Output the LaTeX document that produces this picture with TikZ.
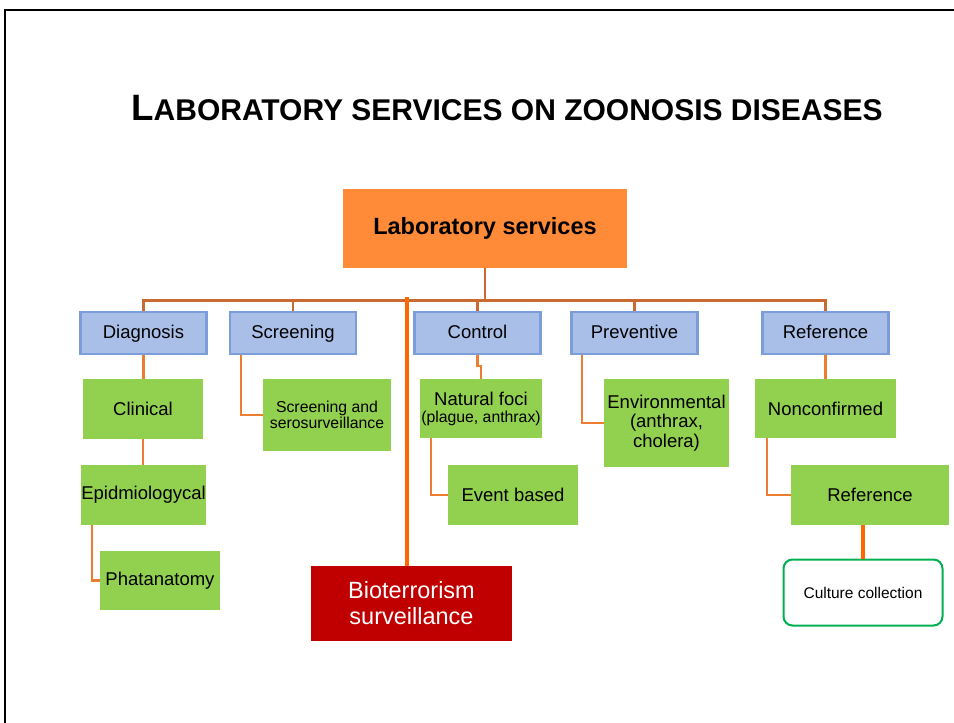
\documentclass[tikz,border=0pt]{standalone}
\usepackage{fontspec}
\setmainfont{Liberation Sans}
\definecolor{busc}{HTML}{CB6A30}
\definecolor{linkc}{HTML}{ED7D31}
\definecolor{bioc}{HTML}{FF6600}
\definecolor{mainc}{HTML}{FF8A38}
\definecolor{bluef}{HTML}{AABFE8}
\definecolor{blued}{HTML}{7B9DD9}
\definecolor{greenf}{HTML}{92D050}
\definecolor{redf}{HTML}{C00000}
\definecolor{cultd}{HTML}{00B050}
\begin{document}
\begin{tikzpicture}[x=1pt,y=-1pt,
  bluebox/.style={draw=blued,fill=bluef,line width=2.5pt,minimum width=126pt,minimum height=42pt,inner sep=0pt,text height=14pt,text depth=3.5pt,font=\fontsize{18.5}{21}\selectfont},
  greenbox/.style={fill=greenf,inner sep=0pt,align=center,font=\fontsize{18.5}{20}\selectfont},
  busline/.style={draw=busc,line width=2.8pt},
  linkline/.style={draw=linkc,line width=2.4pt},
  bioline/.style={draw=bioc,line width=3.2pt}]
\useasboundingbox (0,0) rectangle (954,723);
\fill[white] (0,0) rectangle (954,723);
\draw[line width=2pt] (5,724) -- (5,10) -- (955,10);

\node[anchor=base,inner sep=0pt] (title) at (507,120)
  {\fontsize{30}{34}\selectfont\bfseries{\fontsize{36.7}{40}\selectfont L}ABORATORY SERVICES ON ZOONOSIS DISEASES};

\node[fill=mainc,minimum width=284pt,minimum height=79pt,inner sep=0pt,font=\fontsize{23.5}{26}\selectfont\bfseries] (main) at (485,228.5) {Laboratory services};

\node[bluebox] (diag) at (143.5,333) {Diagnosis};
\node[bluebox] (scr) at (293,333) {Screening};
\node[bluebox] (ctl) at (477.5,333) {Control};
\node[bluebox] (prev) at (634.5,333) {Preventive};
\node[bluebox] (ref) at (825.5,333) {Reference};

\node[greenbox,minimum width=120pt,minimum height=60pt] (clin) at (143,409) {Clinical};
\node[greenbox,minimum width=125pt,minimum height=60pt] (epid) at (143.5,495) {Epidmiologycal};
\node[greenbox,minimum width=120pt,minimum height=59pt] (phat) at (160,580.5) {Phatanatomy};
\node[greenbox,minimum width=128pt,minimum height=72pt,font=\fontsize{15.8}{16.5}\selectfont] (sero) at (327,415) {Screening and\\serosurveillance};
\node[greenbox,minimum width=122pt,minimum height=59pt] (natf) at (481,408.5) {Natural foci\\[-3pt]{\fontsize{15.8}{17}\selectfont(plague, anthrax)}};
\node[greenbox,minimum width=130pt,minimum height=60pt] (event) at (513,495) {Event based};
\node[greenbox,minimum width=125pt,minimum height=88pt,font=\fontsize{18.5}{19.5}\selectfont] (env) at (666.5,423) {Environmental\\(anthrax,\\cholera)};
\node[greenbox,minimum width=141pt,minimum height=59pt] (noncf) at (825.5,408.5) {Nonconfirmed};
\node[greenbox,minimum width=158pt,minimum height=60pt] (ref2) at (870,495) {Reference};

\node[fill=redf,text=white,minimum width=201pt,minimum height=75pt,inner sep=0pt,align=center,font=\fontsize{23.5}{26}\selectfont] (bio) at (411.5,603.5) {Bioterrorism\\surveillance};

\node[draw=cultd,fill=white,line width=2pt,rounded corners=9pt,minimum width=159pt,minimum height=66pt,inner sep=0pt,font=\fontsize{15.5}{18}\selectfont] (cult) at (863,592.5) {Culture collection};

% bus
\draw[busline] (main.south) -- ++(0,32) coordinate (j);
\draw[busline] (diag.north) |- (j);
\draw[busline] (scr.north) |- (j);
\draw[busline] (ctl.north) |- (j);
\draw[busline] (prev.north) |- (j);
\draw[busline] (ref.north) |- (j);

% bioterrorism line
\draw[bioline] ([xshift=-4.5pt]bio.north) -- ++(0,-269);

% child links
\draw[linkline] (diag.south) -- (diag.south |- clin.north);
\draw[linkline] (clin.south) -- (clin.south |- epid.north);
\draw[linkline] ([xshift=11pt]epid.south west) |- (phat.west);
\draw[linkline] ([xshift=12.5pt]scr.south west) |- (sero.west);
\draw[linkline] (ctl.south) -- ++(0,11) -| (natf.north);
\draw[linkline] ([xshift=11pt]natf.south west) |- (event.west);
\draw[linkline] ([xshift=12pt]prev.south west) |- (env.west);
\draw[linkline] (ref.south) -- (ref.south |- noncf.north);
\draw[linkline] ([xshift=12pt]noncf.south west) |- (ref2.west);
\draw[bioline] (cult.north) -- (cult.north |- ref2.south);
\end{tikzpicture}
\end{document}
